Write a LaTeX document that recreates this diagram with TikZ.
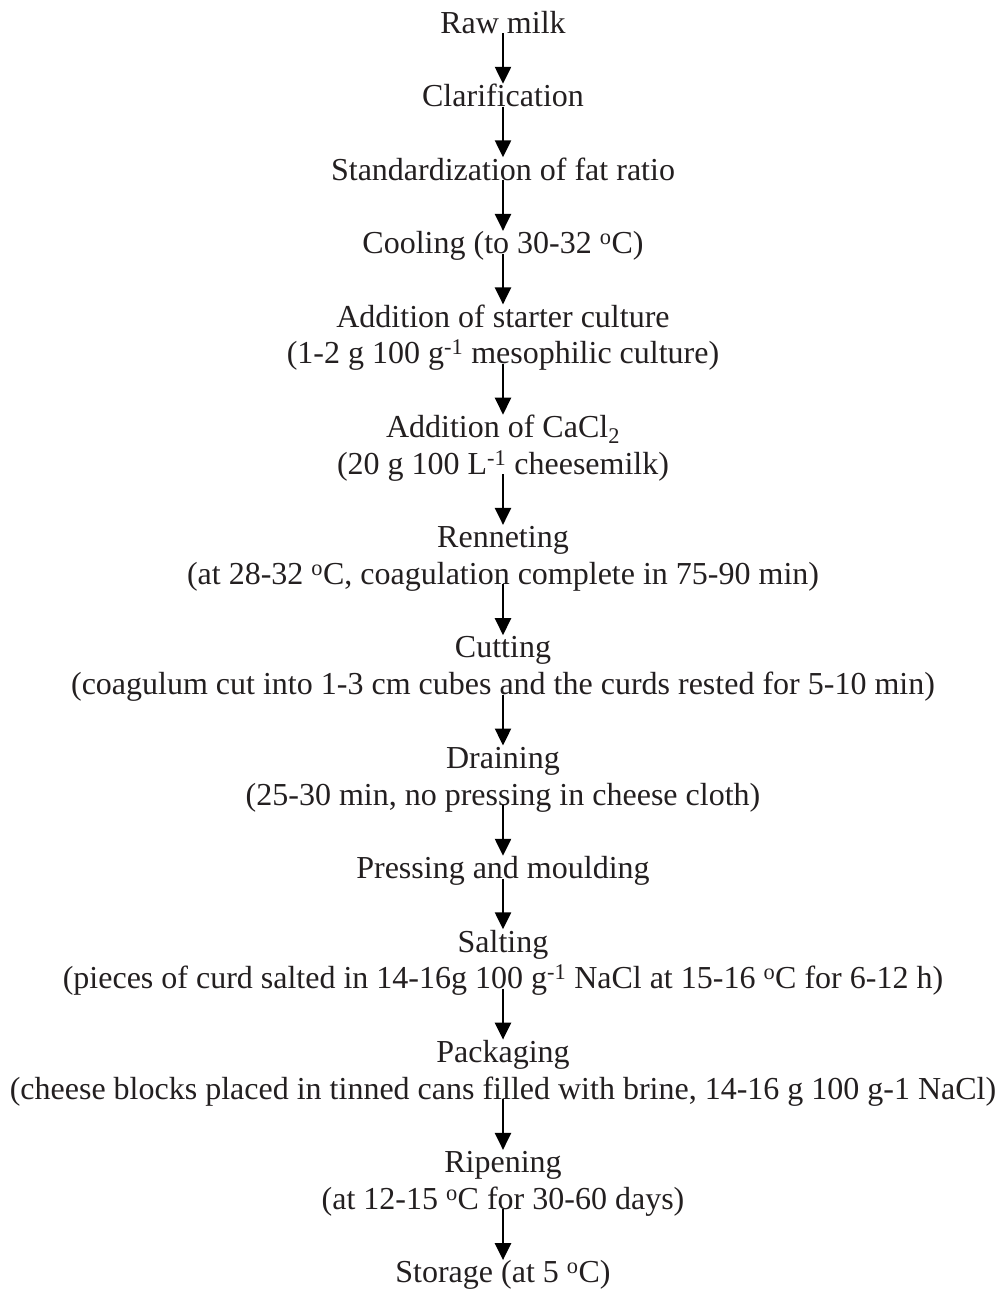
\documentclass[tikz,border=0pt]{standalone}
\usepackage{fontspec}
\setmainfont{Liberation Serif}
\usetikzlibrary{arrows.meta}
\definecolor{inkgray}{RGB}{35,31,32}

\begin{document}
\begin{tikzpicture}[
  stage/.style={anchor=north,align=center,inner sep=0pt,outer sep=0pt,text=inkgray,
    font=\fontsize{32bp}{36.76bp}\selectfont},
  flow/.style={-{Triangle[width=16bp,length=17bp]},line width=2.4bp,
    shorten <=-11bp,shorten >=-3bp}
]
\useasboundingbox (0bp,0bp) rectangle (1004bp,-1291bp);

\node (RM) at (503bp,-7.3bp)[stage] {\strut Raw milk};
\node (CL) at (503bp,-80.8bp)[stage] {\strut Clarification};
\node (ST) at (503bp,-154.3bp)[stage] {\strut Standardization of fat ratio};
\node (CO) at (503bp,-227.9bp)[stage] {\strut Cooling (to 30-32 \textsuperscript{o}C)};
\node (AS) at (503bp,-301.4bp)[stage] {\strut Addition of starter culture\\
  \strut (1-2 g 100 g\textsuperscript{-1} mesophilic culture)};
\node (AC) at (503bp,-411.7bp)[stage] {\strut Addition of CaCl\textsubscript{2}\\
  \strut (20 g 100 L\textsuperscript{-1} cheesemilk)};
\node (RE) at (503bp,-521.9bp)[stage] {\strut Renneting\\
  \strut (at 28-32 \textsuperscript{o}C, coagulation complete in 75-90 min)};
\node (CU) at (503bp,-632.2bp)[stage] {\strut Cutting\\
  \strut (coagulum cut into 1-3 cm cubes and the curds rested for 5-10 min)};
\node (DR) at (503bp,-742.5bp)[stage] {\strut Draining\\
  \strut (25-30 min, no pressing in cheese cloth)};
\node (PM) at (503bp,-852.8bp)[stage] {\strut Pressing and moulding};
\node (SA) at (503bp,-926.3bp)[stage] {\strut Salting\\
  \strut (pieces of curd salted in 14-16g 100 g\textsuperscript{-1} NaCl at 15-16 \textsuperscript{o}C for 6-12 h)};
\node (PA) at (503bp,-1036.6bp)[stage] {\strut Packaging\\
  \strut (cheese blocks placed in tinned cans filled with brine, 14-16 g 100 g-1 NaCl)};
\node (RI) at (503bp,-1146.9bp)[stage] {\strut Ripening\\
  \strut (at 12-15 \textsuperscript{o}C for 30-60 days)};
\node (SO) at (503bp,-1257.1bp)[stage] {\strut Storage (at 5 \textsuperscript{o}C)};

\draw [flow] (RM.south) -- (CL.north);
\draw [flow] (CL.south) -- (ST.north);
\draw [flow] (ST.south) -- (CO.north);
\draw [flow] (CO.south) -- (AS.north);
\draw [flow] (AS.south) -- (AC.north);
\draw [flow] (AC.south) -- (RE.north);
\draw [flow] (RE.south) -- (CU.north);
\draw [flow] (CU.south) -- (DR.north);
\draw [flow] (DR.south) -- (PM.north);
\draw [flow] (PM.south) -- (SA.north);
\draw [flow] (SA.south) -- (PA.north);
\draw [flow] (PA.south) -- (RI.north);
\draw [flow] (RI.south) -- (SO.north);
\end{tikzpicture}
\end{document}
